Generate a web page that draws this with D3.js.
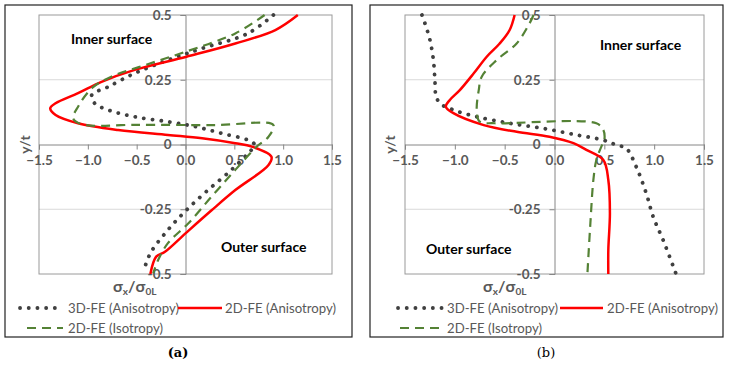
<!DOCTYPE html>
<html>
<head>
<meta charset="utf-8">
<script src="https://cdn.jsdelivr.net/npm/d3@7"></script>
<style>
  body { margin: 0; background: #fff; }
  text { font-family: Lato, "Open Sans", sans-serif; }
</style>
</head>
<body>
<div id="vis"></div>
<script>
const W = 730, H = 365;

// tick values
const xTicks = [-1.5, -1.0, -0.5, 0.0, 0.5, 1.0, 1.5];
const yTicks = [0.5, 0.25, 0, -0.25, -0.5];
const yTickLabels = ["0.5", "0.25", "0", "-0.25", "-0.5"];
const seriesNames = ["3D-FE (Anisotropy)", "2D-FE (Anisotropy)", "2D-FE (Isotropy)"];

// panel (a): [sigma_x / sigma_0L, y/t]
const a3D = [[0.90,0.5],[0.64,0.429],[0.17,0.371],[-0.18,0.326],[-0.52,0.275],[-0.79,0.223],[-0.96,0.191],[-0.93,0.159],[-0.79,0.133],[-0.52,0.107],[-0.18,0.088],[0.10,0.069],[0.37,0.043],[0.64,0.017],[0.71,-0.002],[0.64,-0.034],[0.47,-0.098],[0.23,-0.176],[0.01,-0.253],[-0.18,-0.33],[-0.36,-0.42],[-0.43,-0.49]];
const a2D = [[1.15,0.5],[0.92,0.442],[0.51,0.39],[0.01,0.339],[-0.52,0.288],[-0.86,0.242],[-1.10,0.198],[-1.33,0.159],[-1.385,0.14],[-1.33,0.114],[-1.10,0.082],[-0.69,0.056],[-0.18,0.037],[0.17,0.024],[0.51,0.005],[0.68,-0.008],[0.88,-0.047],[0.85,-0.079],[0.51,-0.176],[0.27,-0.253],[0.0,-0.343],[-0.21,-0.414],[-0.30,-0.433],[-0.36,-0.5]];
const aIso = [[0.81,0.5],[0.51,0.429],[0.0,0.358],[-0.41,0.307],[-0.76,0.262],[-0.96,0.217],[-1.10,0.146],[-1.15,0.101],[-1.06,0.078],[-0.5,0.076],[0.3,0.075],[0.90,0.075],[0.85,0.03],[0.73,-0.008],[0.51,-0.098],[0.27,-0.2],[0.03,-0.304],[-0.18,-0.381],[-0.28,-0.446],[-0.33,-0.497]];

// panel (b)
const b3D = [[-1.33,0.5],[-1.30,0.468],[-1.25,0.404],[-1.215,0.326],[-1.20,0.249],[-1.19,0.191],[-1.15,0.159],[-1.01,0.133],[-0.78,0.107],[-0.45,0.082],[-0.11,0.062],[0.22,0.037],[0.49,0.017],[0.62,-0.002],[0.72,-0.015],[0.82,-0.086],[0.92,-0.188],[0.99,-0.279],[1.09,-0.369],[1.22,-0.5]];
const b2D = [[-0.40,0.5],[-0.45,0.442],[-0.55,0.39],[-0.68,0.339],[-0.81,0.275],[-0.95,0.21],[-1.05,0.172],[-1.09,0.146],[-1.01,0.12],[-0.71,0.075],[-0.38,0.049],[-0.05,0.03],[0.19,0.005],[0.32,-0.021],[0.49,-0.06],[0.54,-0.137],[0.556,-0.266],[0.54,-0.407],[0.54,-0.5]];
const bIso = [[-0.21,0.5],[-0.25,0.468],[-0.38,0.39],[-0.58,0.326],[-0.73,0.262],[-0.76,0.21],[-0.78,0.133],[-0.75,0.088],[-0.6,0.082],[0.42,0.082],[0.49,0.056],[0.50,0.017],[0.47,-0.008],[0.42,-0.06],[0.39,-0.137],[0.36,-0.304],[0.33,-0.5]];

const styles = [
    { color: "#404040", width: 3.8, dash: "0.1,8.6", cap: "round" },
    { color: "#ff0000", width: 2.5, dash: null, cap: "butt" },
    { color: "#548235", width: 2.2, dash: "9,6", cap: "butt" }
];

const svg = d3.select("#vis").append("svg")
    .attr("width", W)
    .attr("height", H);

const panels = [
    { frame: [5, 5, 352, 337], plot: [39, 332], data: [a3D, a2D, aIso],
      inner: [71, 44], outer: [221, 252], xTitle: 113, yTitle: 25,
      leg: { x1: 20, x2: 63, t1: 68, x3: 178, x4: 222, t2: 225, g1: 27 },
      caption: "(a)", capX: 178, bold: true },
    { frame: [370, 5, 723, 337], plot: [405, 704], data: [b3D, b2D, bIso],
      inner: [600, 50], outer: [426, 254], xTitle: 483, yTitle: 390,
      leg: { x1: 398, x2: 443, t1: 447, x3: 560, x4: 603, t2: 607, g1: 400 },
      caption: "(b)", capX: 546, bold: false }
];

const yTop = 15, yBot = 274;

panels.forEach(p => {
    const g = svg.append("g");
    const x = d3.scaleLinear().domain([-1.5, 1.5]).range(p.plot);
    const y = d3.scaleLinear().domain([-0.5, 0.5]).range([yBot, yTop]);

    // outer frame
    g.append("rect")
        .attr("x", p.frame[0]).attr("y", p.frame[1])
        .attr("width", p.frame[2] - p.frame[0]).attr("height", p.frame[3] - p.frame[1])
        .attr("fill", "none").attr("stroke", "#222").attr("stroke-width", 1.2);

    // gridlines
    g.selectAll(".grid").data([0.25, -0.25]).enter().append("line")
        .attr("x1", p.plot[0]).attr("x2", p.plot[1])
        .attr("y1", d => y(d)).attr("y2", d => y(d))
        .attr("stroke", "#d9d9d9").attr("stroke-width", 1);

    // plot border
    g.append("rect")
        .attr("x", p.plot[0]).attr("y", yTop)
        .attr("width", p.plot[1] - p.plot[0]).attr("height", yBot - yTop)
        .attr("fill", "none").attr("stroke", "#9a9a9a").attr("stroke-width", 1);

    // axes through origin
    const xAxis = d3.axisBottom(x).tickValues(xTicks).tickFormat(d3.format(".1f")).tickSize(5).tickPadding(6);
    const yAxis = d3.axisLeft(y).tickValues(yTicks).tickFormat((d, i) => yTickLabels[i]).tickSize(5).tickPadding(9);

    const gx = g.append("g").attr("transform", `translate(0,${y(0)})`).call(xAxis);
    const gy = g.append("g").attr("transform", `translate(${x(0)},0)`).call(yAxis);
    [gx, gy].forEach(ax => {
        ax.select(".domain").attr("stroke", "#868686");
        ax.selectAll(".tick line").attr("stroke", "#868686");
        ax.selectAll("text")
            .attr("fill", "#595959")
            .style("font-size", "13.5px")
            .style("font-weight", "700")
            .style("font-family", "Lato, sans-serif");
    });

    // series
    const line = d3.line()
        .x(d => x(d[0]))
        .y(d => y(d[1]))
        .curve(d3.curveCatmullRom.alpha(0.5));

    p.data.forEach((s, i) => {
        const st = styles[i];
        g.append("path")
            .datum(s)
            .attr("d", line)
            .attr("fill", "none")
            .attr("stroke", st.color)
            .attr("stroke-width", st.width)
            .attr("stroke-linecap", st.cap)
            .attr("stroke-dasharray", st.dash);
    });

    // annotations
    g.append("text").attr("x", p.inner[0]).attr("y", p.inner[1])
        .text("Inner surface").style("font-size", "14px").style("font-weight", "700").attr("fill", "#000");
    g.append("text").attr("x", p.outer[0]).attr("y", p.outer[1])
        .text("Outer surface").style("font-size", "14px").style("font-weight", "700").attr("fill", "#000");

    // axis titles
    const xt = g.append("text").attr("x", p.xTitle).attr("y", 292)
        .attr("fill", "#595959").style("font-size", "16px").style("font-weight", "700");
    xt.append("tspan").text("σ");
    xt.append("tspan").text("x").attr("dy", 3).style("font-size", "10px");
    xt.append("tspan").text("/σ").attr("dy", -3);
    xt.append("tspan").text("0L").attr("dy", 3).style("font-size", "10px");

    g.append("text")
        .attr("transform", `translate(${p.yTitle + 5},${y(0)}) rotate(-90)`)
        .attr("text-anchor", "middle")
        .attr("fill", "#595959").style("font-size", "14px").style("font-weight", "700")
        .text("y/t");

    // legend
    const L = p.leg;
    const legRows = [
        { x1: L.x1, x2: L.x2, yy: 308, tx: L.t1, s: 0 },
        { x1: L.x3, x2: L.x4, yy: 308, tx: L.t2, s: 1 },
        { x1: L.g1, x2: L.x2, yy: 328, tx: L.t1, s: 2 }
    ];
    legRows.forEach(r => {
        const st = styles[r.s];
        g.append("line")
            .attr("x1", r.x1).attr("x2", r.x2).attr("y1", r.yy).attr("y2", r.yy)
            .attr("stroke", st.color).attr("stroke-width", st.width)
            .attr("stroke-linecap", st.cap).attr("stroke-dasharray", st.dash);
        g.append("text").attr("x", r.tx).attr("y", r.yy + 5)
            .attr("fill", "#595959").style("font-size", "13.2px")
            .text(seriesNames[r.s]);
    });

    // caption
    g.append("text").attr("x", p.capX).attr("y", 357)
        .attr("text-anchor", "middle")
        .style("font-family", "'DejaVu Serif', 'Liberation Serif', serif")
        .style("font-size", "13px")
        .style("font-weight", p.bold ? "700" : "400")
        .attr("fill", "#000")
        .text(p.caption);
});
</script>
</body>
</html>
